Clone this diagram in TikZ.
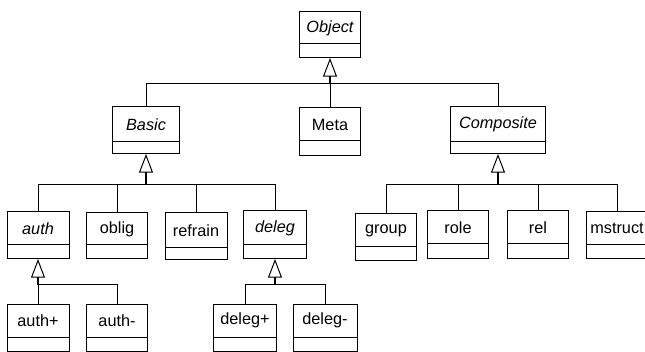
\documentclass[tikz,border=0pt]{standalone}
\usepackage{fontspec}
\setmainfont{Liberation Sans}
\usetikzlibrary{arrows.meta}
\tikzset{
  namebox/.style={draw, line width=0.75pt, inner sep=0pt, outer sep=0pt, fill=white,
    font=\fontsize{12.2}{14}\selectfont},
  attrbox/.style={draw, line width=0.75pt, inner sep=0pt, outer sep=0pt, fill=white},
  link/.style={line width=0.75pt},
  inh/.style={line width=1.4pt, -{Triangle[open, length=14pt, width=10.5pt, line width=0.75pt]}}
}
% name, xcenter, top, divider, bottom, width, text
\newcommand\umlclass[7]{%
  \node[namebox, minimum width={#6*0.75pt}, minimum height={(#4-#3)*0.75pt}, anchor=north] (#1) at (#2,#3) {#7};
  \node[attrbox, minimum width={#6*0.75pt}, minimum height={(#5-#4)*0.75pt}, anchor=north] (#1-a) at (#2,#4) {};
}
\begin{document}
\begin{tikzpicture}[x=0.75pt, y=-0.75pt]
\fill[white] (0,0) rectangle (645,352);
\useasboundingbox (0,0) rectangle (645,352);

\umlclass{object}{330}{12}{44}{58}{61}{\itshape Object}
\umlclass{basic}{146}{107}{142}{154}{67}{\itshape Basic}
\umlclass{meta}{330}{108}{141}{156}{61}{Meta}
\umlclass{composite}{498}{107}{142}{154}{95}{\itshape Composite}

\umlclass{auth}{38}{212}{245}{259}{62}{\itshape auth}
\umlclass{oblig}{117}{213}{245}{259}{61}{oblig}
\umlclass{refrain}{196}{213}{248}{260}{62}{refrain}
\umlclass{deleg}{275}{211}{245}{259}{63}{\itshape deleg}

\umlclass{group}{386}{214}{247}{261}{61}{group}
\umlclass{role}{458}{211}{244}{259}{61}{role}
\umlclass{rel}{538}{211}{244}{259}{61}{rel}
\umlclass{mstruct}{617}{212}{245}{259}{62}{mstruct}

\umlclass{authp}{38}{304}{337}{351}{62}{auth+}
\umlclass{authm}{117}{304}{337}{351}{61}{auth-}
\umlclass{delegp}{245}{304}{337}{351}{63}{deleg+}
\umlclass{delegm}{325}{304}{337}{351}{64}{deleg-}

\coordinate (j1) at (330,84);
\coordinate (j2) at (146,185);
\coordinate (j3) at (498,185);
\coordinate (j4) at (38,285);
\coordinate (j5) at (275,285);

\foreach \c in {basic,meta,composite} \draw[link] (\c.north) |- (j1);
\foreach \c in {auth,oblig,refrain,deleg} \draw[link] (\c.north) |- (j2);
\foreach \c in {group,role,rel,mstruct} \draw[link] (\c.north) |- (j3);
\foreach \c in {authp,authm} \draw[link] (\c.north) |- (j4);
\foreach \c in {delegp,delegm} \draw[link] (\c.north) |- (j5);

\draw[inh] (j1) -- (object-a.south);
\draw[inh] (j2) -- (basic-a.south);
\draw[inh] (j3) -- (composite-a.south);
\draw[inh] (j4) -- (auth-a.south);
\draw[inh] (j5) -- (deleg-a.south);
\end{tikzpicture}
\end{document}
